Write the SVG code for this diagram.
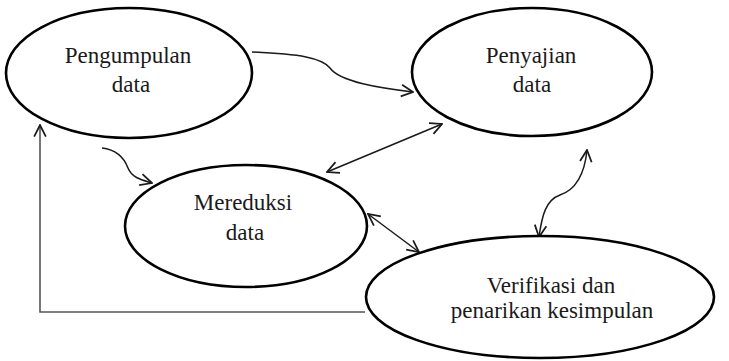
<svg xmlns="http://www.w3.org/2000/svg" width="729" height="361" viewBox="0 0 729 361">
<style>
.node ellipse{fill:#fff;stroke:#000;stroke-width:2.6}
.node text{font-family:'Liberation Serif','Times New Roman','DejaVu Serif',serif;font-size:23px;fill:#1a1a1a;text-anchor:middle}
.conn path{fill:none;stroke:#1a1a1a;stroke-width:1.5}
</style>
<defs>
<marker id="ah" viewBox="0 0 12 12" refX="11" refY="6" markerUnits="userSpaceOnUse" markerWidth="14" markerHeight="14" orient="auto-start-reverse">
<path d="M1,1 L11,6 L1,11" fill="none" stroke="#1a1a1a" stroke-width="1.5"/>
</marker>
</defs>
<rect width="729" height="361" fill="#fff"/>
<g class="conn" id="connectors">
<path d="M252,52 C300,54 322,58 330,68 C340,82 380,88 413,92" marker-end="url(#ah)"/>
<path d="M102,148 C118,150 125,160 128,168 C132,178 142,180 152,183" marker-end="url(#ah)"/>
<path d="M327,172 L442,124" marker-start="url(#ah)" marker-end="url(#ah)"/>
<path d="M368,214 L419,252" marker-start="url(#ah)" marker-end="url(#ah)"/>
<path d="M539,237 C542,215 546,200 560,195 C578,189 585,170 587,150" marker-start="url(#ah)" marker-end="url(#ah)"/>
<path d="M365,312 L40,312 L40,125" style="stroke:#555;stroke-width:1.6" marker-end="url(#ah)"/>
</g>
<g class="node" id="pengumpulan">
<ellipse cx="129" cy="73" rx="123" ry="65"/>
<text x="128" y="63" font-family="Liberation Serif">Pengumpulan</text>
<text x="131" y="92" font-family="Liberation Serif">data</text>
</g>
<g class="node" id="penyajian">
<ellipse cx="532" cy="72" rx="120" ry="64"/>
<text x="531" y="63" font-family="Liberation Serif">Penyajian</text>
<text x="532" y="92" font-family="Liberation Serif">data</text>
</g>
<g class="node" id="mereduksi">
<ellipse cx="246" cy="226" rx="121" ry="61"/>
<text x="243" y="210" font-family="Liberation Serif">Mereduksi</text>
<text x="245" y="240" font-family="Liberation Serif">data</text>
</g>
<g class="node" id="verifikasi">
<ellipse cx="540" cy="297" rx="174" ry="61"/>
<text x="551" y="293" font-family="Liberation Serif">Verifikasi dan</text>
<text x="552" y="318" font-family="Liberation Serif">penarikan kesimpulan</text>
</g>
</svg>
